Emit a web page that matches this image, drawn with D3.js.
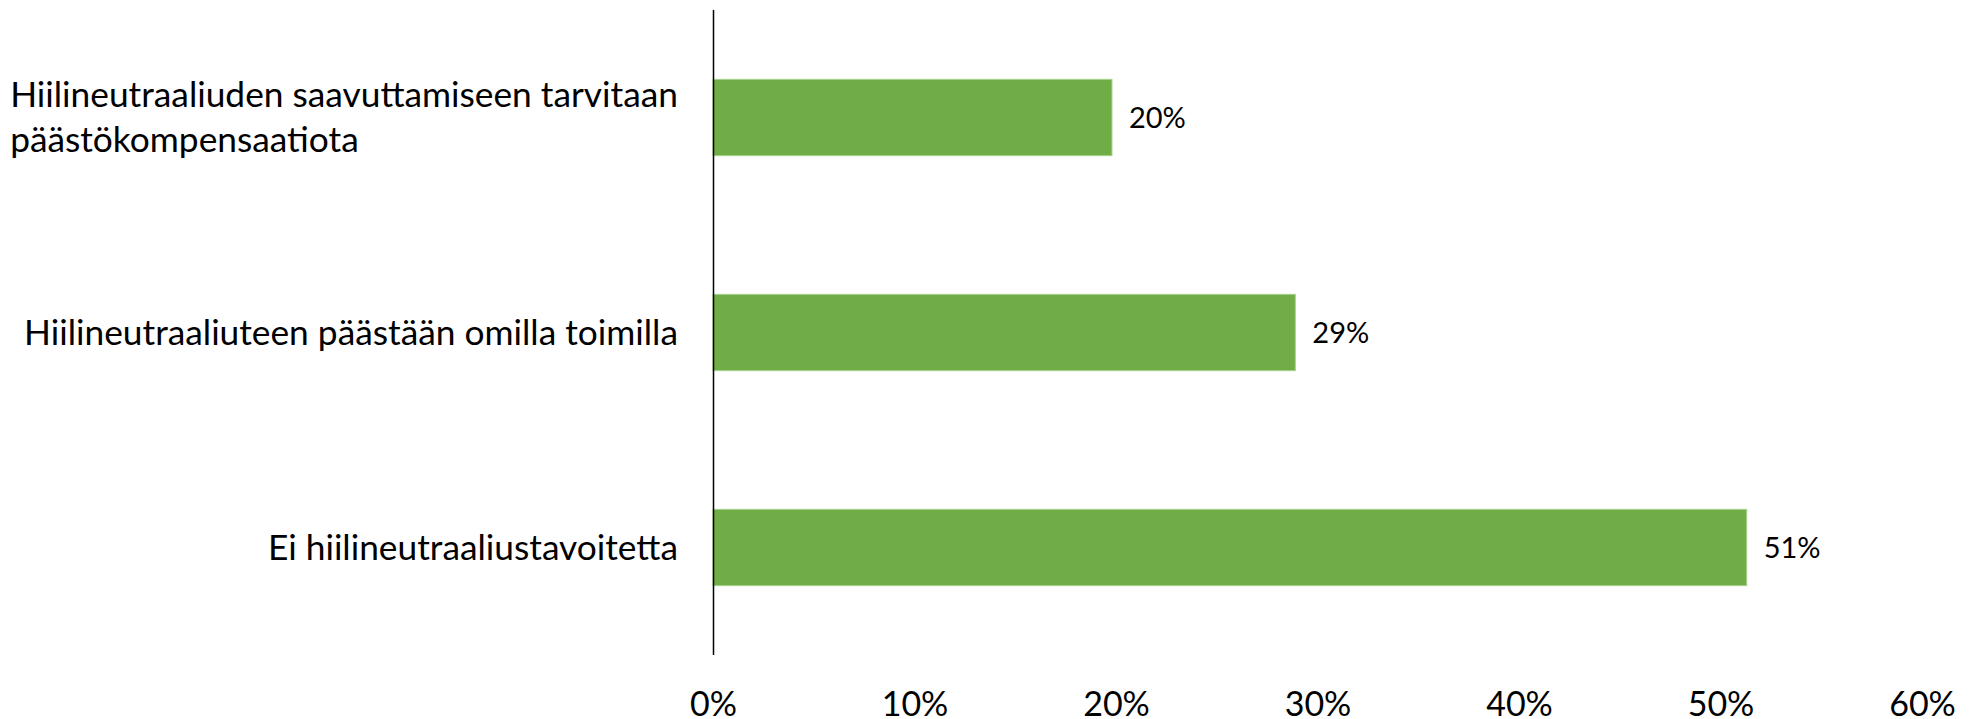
<!DOCTYPE html>
<html>
<head>
<meta charset="utf-8">
<script src="https://cdn.jsdelivr.net/npm/d3@7"></script>
<style>
  body { margin: 0; background: #fff; }
  svg { display: block; }
  text { font-family: Lato, "Open Sans", sans-serif; fill: #000; }
</style>
</head>
<body>
<svg id="chart"></svg>
<script>
// data
var categories = [
  'Hiilineutraaliuden saavuttamiseen tarvitaan päästökompensaatiota',
  'Hiilineutraaliuteen päästään omilla toimilla',
  'Ei hiilineutraaliustavoitetta'
]
var values = [0.198, 0.289, 0.513]
var tickValues = [0, 0.1, 0.2, 0.3, 0.4, 0.5, 0.6]

var width = 1975,
	height = 719,
	plotLeft = 713,
	plotRight = 1922,
	plotTop = 10,
	plotBottom = 655,
	barColor = '#70ad47'

var svg = d3.select('#chart')
	.attr('width', width)
	.attr('height', height)

var x = d3.scaleLinear().domain([0, 0.6]).range([plotLeft, plotRight])
var y = d3.scaleBand().domain(categories).range([plotTop, plotBottom])
	.paddingInner(0.645).paddingOuter(0.3225)

// bars
svg.selectAll('.bar')
	.data(values).enter().append('rect')
	.attr('class', 'bar')
	.attr('x', x(0))
	.attr('y', function(d, i){ return y(categories[i]) })
	.attr('width', function(d){ return x(d) - x(0) })
	.attr('height', y.bandwidth())
	.attr('fill', barColor)
	.attr('stroke', '#a9d18e')
	.attr('stroke-width', 1)

// data labels
svg.selectAll('.lbl')
	.data(values).enter().append('text')
	.attr('class', 'lbl')
	.attr('x', function(d){ return x(d) + 17 })
	.attr('y', function(d, i){ return y(categories[i]) + y.bandwidth() / 2 + 10.5 })
	.style('font-size', '29px')
	.text(function(d){ return Math.round(d * 100) + '%' })

// x axis: labels only
var xAxis = svg.append('g')
	.attr('transform', 'translate(0,' + (height - 30) + ')')
	.call(d3.axisBottom(x).tickValues(tickValues).tickSize(0).tickPadding(0)
		.tickFormat(d3.format('.0%')))
xAxis.select('.domain').remove()
xAxis.selectAll('text')
	.attr('dy', null)
	.attr('y', 27)
	.attr('fill', '#000')
	.style('font-size', '34px')
	.style('font-family', 'Lato, "Open Sans", sans-serif')

// y axis: vertical line + wrapped category labels
var yAxis = svg.append('g')
	.attr('transform', 'translate(' + plotLeft + ',0)')
	.call(d3.axisLeft(y).tickSize(0).tickPadding(35))
yAxis.select('.domain')
	.attr('d', 'M0.5,' + plotTop + 'V' + plotBottom)
	.attr('stroke', '#000')
	.attr('stroke-width', 1.5)
yAxis.selectAll('text')
	.attr('fill', '#000')
	.style('font-size', '35.3px')
	.style('font-family', 'Lato, "Open Sans", sans-serif')
	.call(wrap, 700, 45)

// wrap long labels; the block stays right aligned, its lines left aligned
function wrap(texts, maxWidth, lineHeight){
	texts.each(function(){
		var text = d3.select(this),
			words = text.text().split(/\s+/),
			xPos = +text.attr('x'),
			lines = [],
			line = [],
			widest = 0
		text.text(null)
		var probe = text.append('tspan')
		words.forEach(function(w){
			line.push(w)
			probe.text(line.join(' '))
			if(probe.node().getComputedTextLength() > maxWidth && line.length > 1){
				line.pop()
				lines.push(line.join(' '))
				line = [w]
			}
		})
		lines.push(line.join(' '))
		lines.forEach(function(l){
			probe.text(l)
			widest = Math.max(widest, probe.node().getComputedTextLength())
		})
		probe.remove()
		text.attr('dy', null).attr('text-anchor', 'start')
		var first = -(lines.length - 1) * lineHeight / 2 + 12
		lines.forEach(function(l, i){
			text.append('tspan')
				.attr('x', xPos - widest)
				.attr('y', first + i * lineHeight)
				.text(l)
		})
	})
}
</script>
</body>
</html>
